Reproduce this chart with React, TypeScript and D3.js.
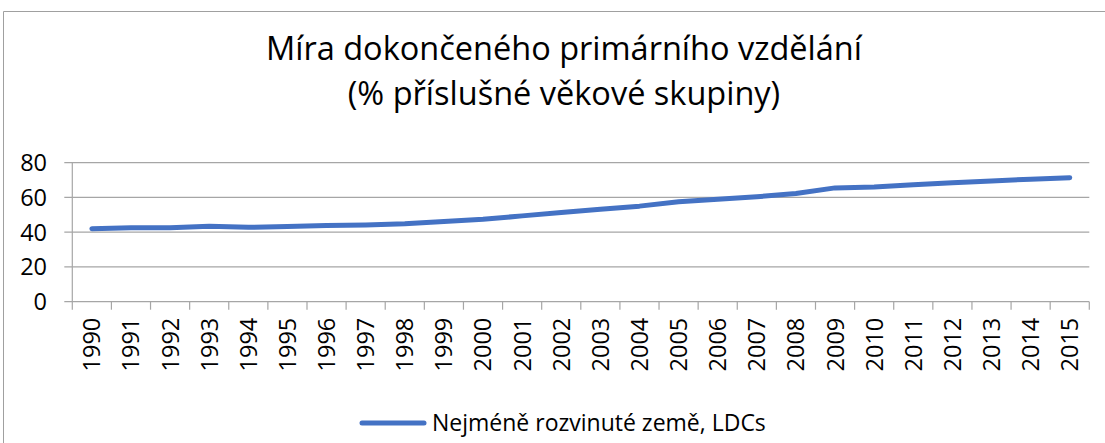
import React from "react";
import * as d3 from "d3";

const years: string[] = [
  "1990","1991","1992","1993","1994","1995","1996","1997","1998","1999",
  "2000","2001","2002","2003","2004","2005","2006","2007","2008","2009",
  "2010","2011","2012","2013","2014","2015",
];
const ldcValues: number[] = [
  42.0, 42.5, 42.6, 43.4, 42.8, 43.3, 43.9, 44.2, 44.9, 46.1,
  47.4, 49.4, 51.4, 53.2, 55.0, 57.5, 59.0, 60.4, 62.3, 65.5,
  66.0, 67.3, 68.5, 69.5, 70.5, 71.4,
];
const yTicks: number[] = [0, 20, 40, 60, 80];
const titleLines: string[] = ["Míra dokončeného primárního vzdělání", "(% příslušné věkové skupiny)"];
const seriesName = "Nejméně rozvinuté země, LDCs";

const W = 1105;
const H = 443;
const plotLeft = 72.3;
const plotRight = 1089.3;
const plotTop = 162.7;
const plotBottom = 301.7;
const FONT = "'Open Sans', 'Noto Sans', sans-serif";
const LINE_COLOR = "#4472C4";
const GRID_COLOR = "#a6a6a6";

export default function App() {
  const x = d3.scaleBand<string>().domain(years).range([plotLeft, plotRight]);
  const y = d3.scaleLinear().domain([0, 80]).range([plotBottom, plotTop]);
  const line = d3
    .line<number>()
    .x((_, i) => (x(years[i]) as number) + x.bandwidth() / 2)
    .y((d) => y(d));
  const boundaries = d3.range(years.length + 1).map((i) => plotLeft + i * x.step());

  return (
    <svg
      width={W}
      height={H}
      style={{ position: "absolute", left: 0, top: 0, background: "#fff" }}
      xmlns="http://www.w3.org/2000/svg"
    >
      <rect x={0} y={0} width={W} height={H} fill="#fff" />
      {/* chart frame */}
      <path d={`M3.5,${H} V11.5 H${W}`} fill="none" stroke="#a0a0a0" strokeWidth={1} />

      {/* title */}
      {titleLines.map((t, i) => (
        <text
          key={i}
          x={564}
          y={60 + i * 45}
          textAnchor="middle"
          fontFamily={FONT}
          fontSize={32.5}
          fill="#000"
        >
          {t}
        </text>
      ))}

      {/* gridlines and y ticks */}
      {yTicks.map((t) => (
        <g key={t}>
          <line
            x1={plotLeft - 8}
            x2={plotRight}
            y1={y(t)}
            y2={y(t)}
            stroke={GRID_COLOR}
            strokeWidth={1.2}
          />
          <text
            x={47}
            y={y(t)}
            dy="0.36em"
            textAnchor="end"
            fontFamily={FONT}
            fontSize={23.5}
            fill="#000"
          >
            {t}
          </text>
        </g>
      ))}

      {/* y axis line */}
      <line x1={plotLeft} x2={plotLeft} y1={plotTop} y2={plotBottom} stroke={GRID_COLOR} strokeWidth={1.2} />

      {/* x axis ticks */}
      {boundaries.map((bx, i) => (
        <line key={i} x1={bx} x2={bx} y1={plotBottom} y2={plotBottom + 8} stroke={GRID_COLOR} strokeWidth={1.2} />
      ))}

      {/* x labels */}
      {years.map((yr) => {
        const cx = (x(yr) as number) + x.bandwidth() / 2;
        return (
          <text
            key={yr}
            transform={`translate(${cx},${plotBottom + 16}) rotate(-90)`}
            textAnchor="end"
            dy="0.36em"
            fontFamily={FONT}
            fontSize={23.5}
            fill="#000"
          >
            {yr}
          </text>
        );
      })}

      {/* series line */}
      <path
        d={line(ldcValues) || ""}
        fill="none"
        stroke={LINE_COLOR}
        strokeWidth={5}
        strokeLinecap="round"
        strokeLinejoin="round"
      />

      {/* legend */}
      <line x1={362} x2={424} y1={423} y2={423} stroke={LINE_COLOR} strokeWidth={5} strokeLinecap="round" />
      <text x={432} y={423} dy="0.36em" fontFamily={FONT} fontSize={23} fill="#000">
        {seriesName}
      </text>
    </svg>
  );
}
